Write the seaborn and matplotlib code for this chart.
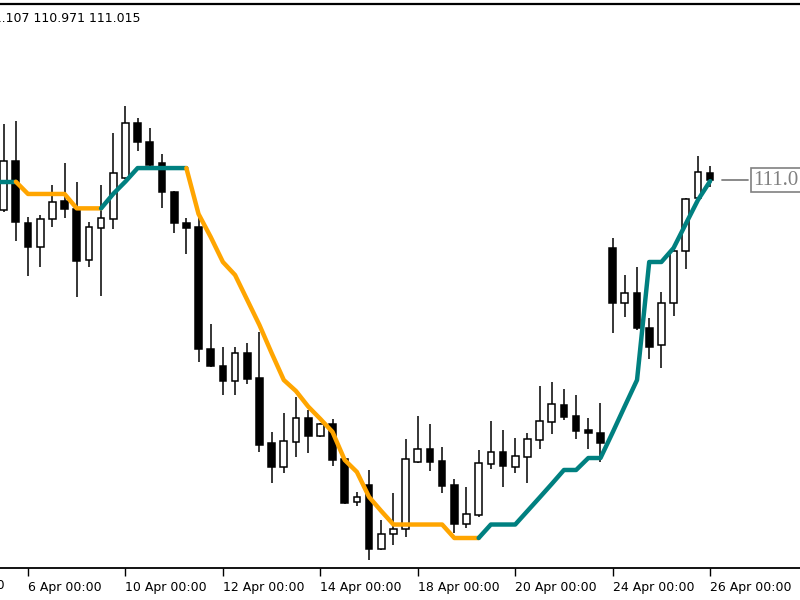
import matplotlib
matplotlib.use("Agg")
import matplotlib.pyplot as plt
import matplotlib.transforms as mtransforms
import numpy as np
import pandas as pd
import seaborn as sns

# ---------------- data ----------------
bar_index = list(range(-2, 57))
open_ = [110.817, 111.140, 110.733, 110.575, 110.756, 110.876, 110.824, 110.487, 110.696, 110.758,
         111.028, 111.393, 111.264, 111.125, 110.934, 110.733, 110.703, 109.898, 109.789, 109.690,
         109.871, 109.706, 109.281, 109.119, 109.288, 109.446, 109.325, 109.403, 109.172, 108.888,
         109.002, 108.578, 108.677, 108.710, 109.156, 109.240, 109.162, 109.002, 108.745, 108.804,
         109.139, 109.222, 109.119, 109.189, 109.299, 109.420, 109.530, 109.457, 109.365, 109.347,
         110.568, 110.205, 110.267, 110.036, 109.926, 110.205, 110.548, 110.898, 111.063]
high = [111.385, 111.406, 110.769, 110.782, 110.984, 111.125, 111.004, 110.740, 110.982, 111.323,
        111.505, 111.426, 111.356, 111.185, 110.942, 110.762, 110.773, 110.067, 109.915, 109.915,
        109.941, 110.014, 109.354, 109.475, 109.585, 109.497, 109.409, 109.436, 109.175, 108.958,
        109.101, 108.771, 108.951, 109.304, 109.457, 109.405, 109.255, 109.040, 108.991, 109.233,
        109.426, 109.365, 109.314, 109.347, 109.657, 109.684, 109.636, 109.596, 109.446, 109.545,
        110.630, 110.388, 110.439, 110.106, 110.278, 110.553, 110.898, 111.173, 111.107]
low = [110.804, 110.614, 110.383, 110.443, 110.703, 110.762, 110.245, 110.443, 110.251, 110.690,
       111.022, 111.208, 111.103, 110.828, 110.667, 110.525, 109.816, 109.783, 109.596, 109.596,
       109.669, 109.222, 109.017, 109.079, 109.189, 109.215, 109.317, 109.129, 108.877, 108.865,
       108.510, 108.573, 108.606, 108.657, 109.145, 109.094, 108.947, 108.683, 108.716, 108.789,
       109.108, 108.987, 109.079, 109.017, 109.238, 109.339, 109.431, 109.306, 109.238, 109.156,
       110.007, 110.113, 110.025, 109.832, 109.772, 110.115, 110.426, 110.888, 110.971]
close = [111.140, 110.736, 110.575, 110.760, 110.872, 110.824, 110.482, 110.703, 110.762, 111.063,
         111.393, 111.264, 111.114, 110.938, 110.729, 110.696, 109.900, 109.789, 109.690, 109.871,
         109.700, 109.266, 109.119, 109.292, 109.446, 109.325, 109.403, 109.167, 108.885, 108.921,
         108.578, 108.679, 108.710, 109.172, 109.240, 109.156, 108.995, 108.745, 108.809, 109.145,
         109.222, 109.127, 109.193, 109.304, 109.424, 109.537, 109.453, 109.358, 109.343, 109.281,
         110.201, 110.267, 110.036, 109.915, 110.205, 110.546, 110.890, 111.070, 111.015]

line_index = list(range(-3, 57))
line_values = [111.004, 111.004, 111.004, 110.923, 110.923, 110.923, 110.923, 110.828, 110.828, 110.828,
               110.924, 111.005, 111.094, 111.094, 111.094, 111.094, 111.094, 110.791, 110.639, 110.474,
               110.388, 110.223, 110.058, 109.873, 109.695, 109.622, 109.520, 109.438, 109.352, 109.167,
               109.088, 108.923, 108.830, 108.741, 108.741, 108.741, 108.741, 108.741, 108.652, 108.652,
               108.652, 108.741, 108.741, 108.741, 108.830, 108.919, 109.009, 109.101, 109.101, 109.180,
               109.180, 109.349, 109.523, 109.695, 110.474, 110.474, 110.566, 110.725, 110.883, 111.008]
line_trend = list("uuu" "ddddddd" "uuuuuuu" "dddddddddddddddddddddddd" "uuuuuuuuuuuuuuuuuuu")

tick_index = [-8, 0, 8, 16, 24, 32, 40, 48, 56]
tick_labels = ["4 Apr 00:00", "6 Apr 00:00", "10 Apr 00:00", "12 Apr 00:00", "14 Apr 00:00",
               "18 Apr 00:00", "20 Apr 00:00", "24 Apr 00:00", "26 Apr 00:00"]
header_text = "111.107 110.971 111.015"
last_price = 111.015

UP_COLOR = "#008080"
DOWN_COLOR = "#FFA500"

# ---------------- figure ----------------
sns.set_theme(style="white")
plt.rcParams["font.family"] = ["DejaVu Sans"]

fig = plt.figure(figsize=(8, 6), dpi=100)
fig.patch.set_facecolor("white")
ax = fig.add_axes([0, 32 / 600, 1, 564 / 600])
ax.set_facecolor("white")

bars = pd.DataFrame({"i": bar_index, "open": open_, "high": high, "low": low, "close": close})
bull = bars["close"] >= bars["open"]

# wicks
ax.vlines(bars["i"], bars["low"], bars["high"], color="black", linewidth=1.1, zorder=2)
# bodies
body_bottom = np.minimum(bars["open"], bars["close"])
body_height = np.maximum(np.abs(bars["close"] - bars["open"]), 0.004)
ax.bar(bars["i"], body_height, bottom=body_bottom, width=0.55,
       color=np.where(bull, "white", "black"), edgecolor="black", linewidth=1.1, zorder=2.5)

# indicator line, coloured by trend
line_df = pd.DataFrame({"i": line_index, "v": line_values, "t": line_trend})
runs = []
start = 0
for k in range(1, len(line_df) + 1):
    if k == len(line_df) or line_df["t"].iloc[k] != line_df["t"].iloc[start]:
        runs.append((start, k))
        start = k
for s, e in runs:
    seg = line_df.iloc[max(s - 1, 0):e]
    col = UP_COLOR if line_df["t"].iloc[s] == "u" else DOWN_COLOR
    sns.lineplot(data=seg, x="i", y="v", color=col, linewidth=3.2, sort=False,
                 estimator=None, ax=ax, zorder=3, solid_capstyle="round",
                 solid_joinstyle="round")

ax.set_xlim(-2.299, 63.38)
ax.set_ylim(108.454, 112.177)
ax.set_xlabel("")
ax.set_ylabel("")
ax.set_yticks([])

for side in ["left", "right"]:
    ax.spines[side].set_visible(False)
for side in ["top", "bottom"]:
    ax.spines[side].set_visible(True)
    ax.spines[side].set_color("black")
ax.spines["top"].set_linewidth(1.6)
ax.spines["bottom"].set_linewidth(1.3)

vis_ticks = [t for t in tick_index if t >= -2]
vis_labels = [l for t, l in zip(tick_index, tick_labels) if t >= -2]
ax.set_xticks(vis_ticks)
ax.set_xticklabels(vis_labels, ha="left", fontsize=9, color="black")
ax.tick_params(axis="x", direction="out", length=6, width=1, color="black", pad=3, bottom=True)

trans_x = mtransforms.blended_transform_factory(ax.transData, ax.transAxes)
for t, l in zip(tick_index, tick_labels):
    if t < -2:
        ax.text(t, -0.0106 - 0.0106 * 0.8, l, transform=trans_x, ha="left", va="top",
                fontsize=9, color="black", clip_on=False)

# header
fig.text(141 / 800, 1 - 18 / 600, header_text, ha="right", va="center",
         fontsize=9, color="black")

# last price label
trans_y = mtransforms.blended_transform_factory(ax.transAxes, ax.transData)
ax.plot([722 / 800, 748 / 800], [last_price, last_price], transform=trans_y,
        color="#808080", linewidth=1.3, clip_on=False, zorder=4)
ax.text(753 / 800, last_price, f"{last_price:.3f}", transform=trans_y, ha="left", va="center",
        fontsize=15, family="Liberation Serif", color="#808080", zorder=5, clip_on=False,
        bbox=dict(boxstyle="square,pad=0.12", fc="white", ec="#808080", lw=1.2))

fig.savefig("out.png", dpi=100)
